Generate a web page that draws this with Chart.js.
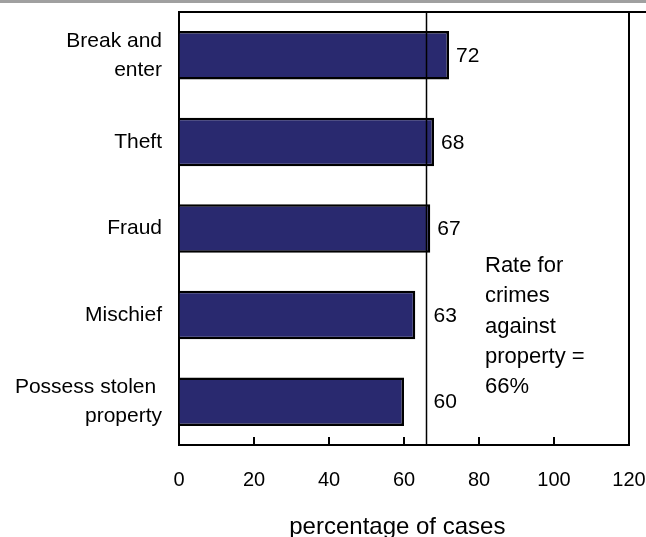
<!DOCTYPE html>
<html>
<head>
<meta charset="utf-8">
<script src="https://cdn.jsdelivr.net/npm/chart.js@4"></script>
<style>
  html, body { margin: 0; padding: 0; background: #fff; }
  #wrap { width: 646px; height: 537px; position: relative; }
</style>
</head>
<body>
<div id="wrap"><canvas id="crimeChart"></canvas></div>
<script>
var categories = [['Break and', 'enter'], 'Theft', 'Fraud', 'Mischief', ['Possess stolen ', 'property']];
var values = [72, 68, 67, 63, 60];
var overallRate = 66;
var rateNote = ['Rate for', 'crimes', 'against', 'property =', '66%'];
var xTicks = [0, 20, 40, 60, 80, 100, 120];

var FONT = '"Liberation Sans", Arial, Helvetica, sans-serif';

function noPad(scale) {
  scale.paddingLeft = 0;
  scale.paddingRight = 0;
  scale.paddingTop = 0;
  scale.paddingBottom = 0;
}

// frame, inward ticks, reference line, value labels and note
var extras = {
  id: 'extras',
  afterDatasetsDraw: function(chart) {
    var ctx = chart.ctx;
    var a = chart.chartArea;
    var x = chart.scales.x;
    ctx.save();

    // grey rule along the top of the figure
    ctx.fillStyle = '#a0a0a0';
    ctx.fillRect(0, 0, chart.width, 3);

    ctx.strokeStyle = '#000';
    ctx.lineWidth = 2;
    ctx.beginPath();
    ctx.moveTo(a.left, a.top);
    ctx.lineTo(chart.width, a.top);
    ctx.moveTo(a.right, a.top);
    ctx.lineTo(a.right, a.bottom);
    ctx.stroke();

    // tick marks pointing up into the plot
    ctx.beginPath();
    xTicks.forEach(function(t) {
      if (t === 0 || t === 120) return;
      var px = x.getPixelForValue(t);
      ctx.moveTo(px, a.bottom);
      ctx.lineTo(px, a.bottom - 8);
    });
    ctx.stroke();

    // line at the overall rate
    var lx = x.getPixelForValue(overallRate);
    ctx.lineWidth = 1.5;
    ctx.beginPath();
    ctx.moveTo(lx, a.top);
    ctx.lineTo(lx, a.bottom);
    ctx.stroke();

    ctx.fillStyle = '#000';
    ctx.font = '21px ' + FONT;
    ctx.textBaseline = 'middle';
    ctx.textAlign = 'left';
    var meta = chart.getDatasetMeta(0);
    values.forEach(function(v, i) {
      var bar = meta.data[i];
      var px = Math.max(bar.x, lx) + 7;
      ctx.fillText(String(v), px, bar.y + 1);
    });

    ctx.font = '22px ' + FONT;
    rateNote.forEach(function(line, i) {
      ctx.fillText(line, 485, 266 + i * 30.3);
    });
    ctx.restore();
  }
};

new Chart(document.getElementById('crimeChart'), {
  type: 'bar',
  data: {
    labels: categories,
    datasets: [{
      data: values,
      backgroundColor: '#29296f',
      borderColor: '#000',
      borderWidth: 2.5,
      borderSkipped: 'left',
      barPercentage: 0.56,
      categoryPercentage: 1
    }]
  },
  options: {
    indexAxis: 'y',
    responsive: true,
    maintainAspectRatio: false,
    animation: false,
    layout: { padding: { top: 12, right: 17, bottom: 0, left: 0 } },
    plugins: {
      legend: { display: false },
      tooltip: { enabled: false }
    },
    scales: {
      x: {
        min: 0,
        max: 120,
        afterBuildTicks: function(scale) {
          scale.ticks = xTicks.map(function(v) { return { value: v }; });
        },
        afterFit: function(scale) { scale.height = 92; noPad(scale); },
        grid: { display: true, drawOnChartArea: false, drawTicks: false },
        border: { display: true, color: '#000', width: 2 },
        ticks: {
          padding: 23,
          color: '#000',
          maxRotation: 0,
          font: { family: FONT, size: 20 }
        },
        title: {
          display: true,
          text: 'percentage of cases  ',
          color: '#000',
          padding: { top: 0, bottom: -5 },
          font: { family: FONT, size: 24 }
        }
      },
      y: {
        afterFit: function(scale) { scale.width = 179; noPad(scale); },
        grid: { display: true, drawOnChartArea: false, drawTicks: false },
        border: { display: true, color: '#000', width: 2 },
        ticks: {
          padding: 17,
          color: '#000',
          font: { family: FONT, size: 21, lineHeight: 1.38 }
        }
      }
    }
  },
  plugins: [extras]
});
</script>
</body>
</html>
